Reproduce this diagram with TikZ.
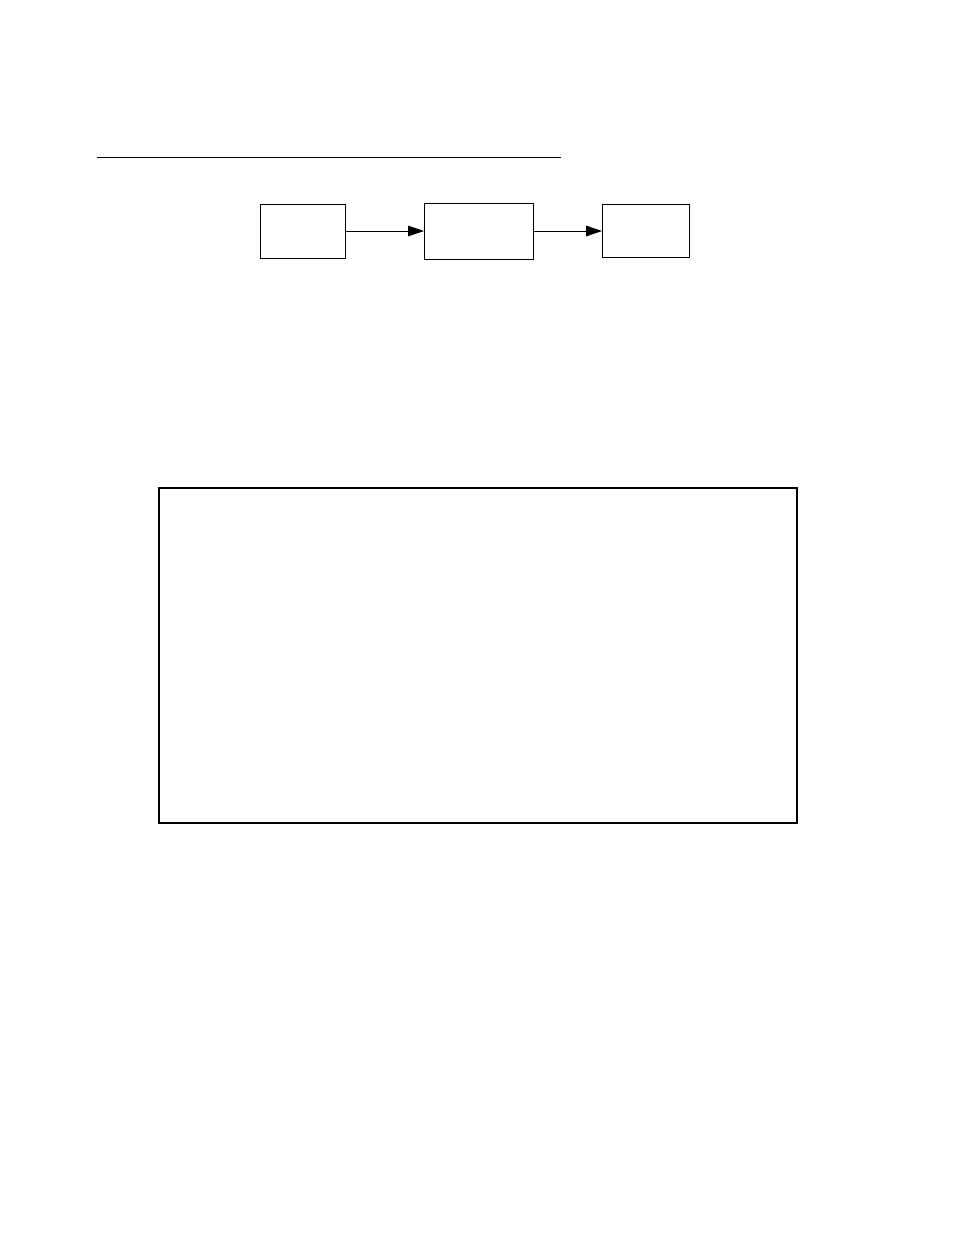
\documentclass[tikz,border=0pt]{standalone}
\usetikzlibrary{arrows.meta}
\begin{document}
\begin{tikzpicture}[x=0.75pt,y=-0.75pt,
  blk/.style={draw,line width=0.75pt,minimum width=0pt,inner sep=0pt,anchor=north west},
  conn/.style={line width=0.6pt,-{Triangle[length=12pt,width=8pt]}}]
\useasboundingbox (0,0) rectangle (954,1235);
\coordinate (l1) at (97,157);
\coordinate (l2) at (561,157);
\draw[line width=0.75pt] (l1) -- (l2);
\node[blk,minimum width=85*0.75pt,minimum height=54*0.75pt] (a) at (260,204) {};
\node[blk,minimum width=109*0.75pt,minimum height=56*0.75pt] (b) at (424,203) {};
\node[blk,minimum width=87*0.75pt,minimum height=53*0.75pt] (c) at (602,204) {};
\draw[conn] (a.east|-0,231) -- (b.west|-0,231);
\draw[conn] (b.east|-0,231) -- (c.west|-0,231);
\node[draw,line width=1.5pt,inner sep=0pt,anchor=north west,minimum width=638*0.75pt,minimum height=335*0.75pt] (big) at (157.5,487) {};
\end{tikzpicture}
\end{document}
